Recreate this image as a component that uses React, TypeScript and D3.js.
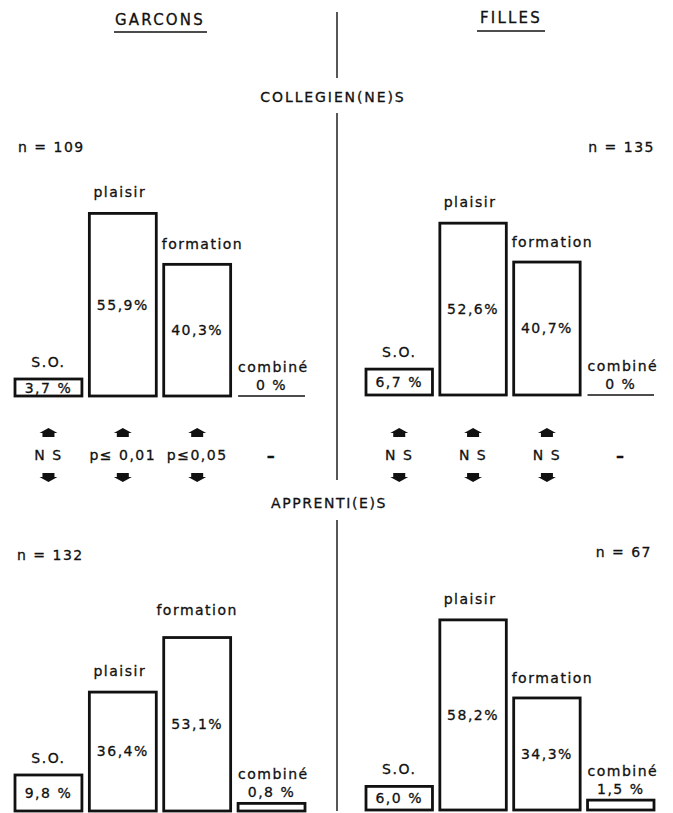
import React from "react";
import { scaleBand, scaleLinear } from "d3";

// categories + values (percent)
const categories = ["S.O.", "plaisir", "formation", "combiné"];
const garconsCollegiens = [3.7, 55.9, 40.3, 0];
const fillesCollegiens = [6.7, 52.6, 40.7, 0];
const garconsApprentis = [9.8, 36.4, 53.1, 0.8];
const fillesApprentis = [6.0, 58.2, 34.3, 1.5];
const effectifs = [109, 135, 132, 67];
const signifGarcons = ["N S", "p≤ 0,01", "p≤0,05", "–"];
const signifFilles = ["N S", "N S", "N S", "–"];
const columnTitles = ["GARCONS", "FILLES"];
const rowTitles = ["COLLEGIEN(NE)S", "APPRENTI(E)S"];

const W = 673;
const H = 813;
const ink = "#111";
const font = "'DejaVu Sans', sans-serif";

const yScale = scaleLinear().domain([0, 60]).range([0, 196]);

const xCols = [
  scaleBand().domain(categories).range([15, 305]).paddingInner(0.1),
  scaleBand().domain(categories).range([366, 654]).paddingInner(0.1),
];

const fmt = (v: number) =>
  v === 0 ? "0 %" : v.toFixed(1).replace(".", ",") + (v < 10 ? " %" : "%");

// small boxes are drawn a little taller than scale so the value fits
function barHeight(cat: string, v: number) {
  if (v === 0) return 0;
  const h = yScale(v);
  if (cat === "S.O.") return Math.max(h + 4, 17);
  if (cat === "combiné") return h + 5;
  return h;
}

const txt = {
  fontFamily: font,
  fontSize: 14,
  fill: ink,
  stroke: ink,
  strokeWidth: 0.3,
  letterSpacing: 1.5,
} as const;

function Panel({ values, col, baseline }: { values: number[]; col: number; baseline: number }) {
  const x = xCols[col];
  const bw = x.bandwidth();
  const plaisir = values[categories.indexOf("plaisir")];
  return (
    <g>
      {categories.map((cat, i) => {
        const v = values[i];
        const h = barHeight(cat, v);
        const bx = x(cat)!;
        const top = baseline - h;
        const cx = bx + bw / 2;
        let label;
        let value;
        if (cat === "S.O.") {
          label = <text x={cx} y={top - 17} dy="0.35em" textAnchor="middle" style={txt}>{cat}</text>;
          value = <text x={cx} y={top + h / 2} dy="0.37em" textAnchor="middle" style={txt}>{fmt(v)}</text>;
        } else if (cat === "plaisir") {
          label = <text x={cx - 3} y={top - 21} dy="0.35em" textAnchor="middle" style={txt}>{cat}</text>;
          value = <text x={cx} y={top + h / 2} dy="0.35em" textAnchor="middle" style={txt}>{fmt(v)}</text>;
        } else if (cat === "formation") {
          label =
            v >= plaisir ? (
              <text x={cx} y={top - 27} dy="0.35em" textAnchor="middle" style={txt}>{cat}</text>
            ) : (
              <text x={bx - 2} y={top - 20} dy="0.35em" textAnchor="start" style={txt}>{cat}</text>
            );
          value = <text x={cx} y={top + h / 2} dy="0.35em" textAnchor="middle" style={txt}>{fmt(v)}</text>;
        } else {
          label = <text x={bx} y={top - 29} dy="0.35em" textAnchor="start" style={txt}>{cat}</text>;
          value = <text x={cx} y={top - 11} dy="0.35em" textAnchor="middle" style={txt}>{fmt(v)}</text>;
        }
        return (
          <g key={cat}>
            {h > 0 ? (
              <rect x={bx} y={top} width={bw} height={h} fill="white" stroke={ink} strokeWidth={2.8} />
            ) : (
              <line x1={bx} x2={bx + bw} y1={baseline} y2={baseline} stroke={ink} strokeWidth={1.5} />
            )}
            {label}
            {value}
          </g>
        );
      })}
    </g>
  );
}

function Arrow({ x, y, up }: { x: number; y: number; up: boolean }) {
  // squat "house" arrow: wide triangle head + narrow body
  const d = up
    ? `M${x - 9},${y} L${x},${y - 5} L${x + 9},${y} L${x + 6},${y} L${x + 6},${y + 4} L${x - 6},${y + 4} L${x - 6},${y} Z`
    : `M${x - 9},${y} L${x},${y + 5} L${x + 9},${y} L${x + 6},${y} L${x + 6},${y - 4} L${x - 6},${y - 4} L${x - 6},${y} Z`;
  return <path d={d} fill={ink} />;
}

function Signif({ labels, col }: { labels: string[]; col: number }) {
  const x = xCols[col];
  return (
    <g>
      {categories.map((cat, i) => {
        const cx = x(cat)! + x.bandwidth() / 2;
        const dash = labels[i] === "–";
        return (
          <g key={cat}>
            {!dash && <Arrow x={cx} y={433} up />}
            <text
              x={cx}
              y={455}
              dy="0.35em"
              textAnchor="middle"
              style={dash ? { ...txt, fontWeight: "bold", fontSize: 16 } : txt}
            >
              {labels[i]}
            </text>
            {!dash && <Arrow x={cx} y={477} up={false} />}
          </g>
        );
      })}
    </g>
  );
}

export default function App() {
  const headTxt = { ...txt, fontSize: 15, letterSpacing: 2.2 };
  return (
    <svg
      width={W}
      height={H}
      viewBox={`0 0 ${W} ${H}`}
      style={{ position: "absolute", left: 0, top: 0, background: "white" }}
    >
      <rect width={W} height={H} fill="white" />
      {/* divider */}
      <g stroke={ink} strokeWidth={1.4}>
        <line x1={337} x2={337} y1={12} y2={78} />
        <line x1={337} x2={337} y1={113} y2={480} />
        <line x1={337} x2={337} y1={520} y2={811} />
      </g>
      {/* column titles */}
      <text x={160} y={20} dy="0.35em" textAnchor="middle" style={headTxt}>{columnTitles[0]}</text>
      <line x1={114} x2={207} y1={32} y2={32} stroke={ink} strokeWidth={1.3} />
      <text x={511} y={18} dy="0.35em" textAnchor="middle" style={headTxt}>{columnTitles[1]}</text>
      <line x1={477} x2={545} y1={31} y2={31} stroke={ink} strokeWidth={1.3} />
      {/* row titles */}
      <text x={333} y={97} dy="0.35em" textAnchor="middle" style={{ ...txt, letterSpacing: 1.9 }}>{rowTitles[0]}</text>
      <text x={329} y={503} dy="0.35em" textAnchor="middle" style={{ ...txt, letterSpacing: 1.6 }}>{rowTitles[1]}</text>
      {/* effectifs */}
      <text x={18} y={147} dy="0.35em" style={txt}>{`n = ${effectifs[0]}`}</text>
      <text x={655} y={147} dy="0.35em" textAnchor="end" style={txt}>{`n = ${effectifs[1]}`}</text>
      <text x={17} y={555} dy="0.35em" style={txt}>{`n = ${effectifs[2]}`}</text>
      <text x={652} y={552} dy="0.35em" textAnchor="end" style={txt}>{`n = ${effectifs[3]}`}</text>
      <Panel values={garconsCollegiens} col={0} baseline={396} />
      <Panel values={fillesCollegiens} col={1} baseline={395} />
      <Panel values={garconsApprentis} col={0} baseline={811} />
      <Panel values={fillesApprentis} col={1} baseline={810} />
      <Signif labels={signifGarcons} col={0} />
      <Signif labels={signifFilles} col={1} />
    </svg>
  );
}
